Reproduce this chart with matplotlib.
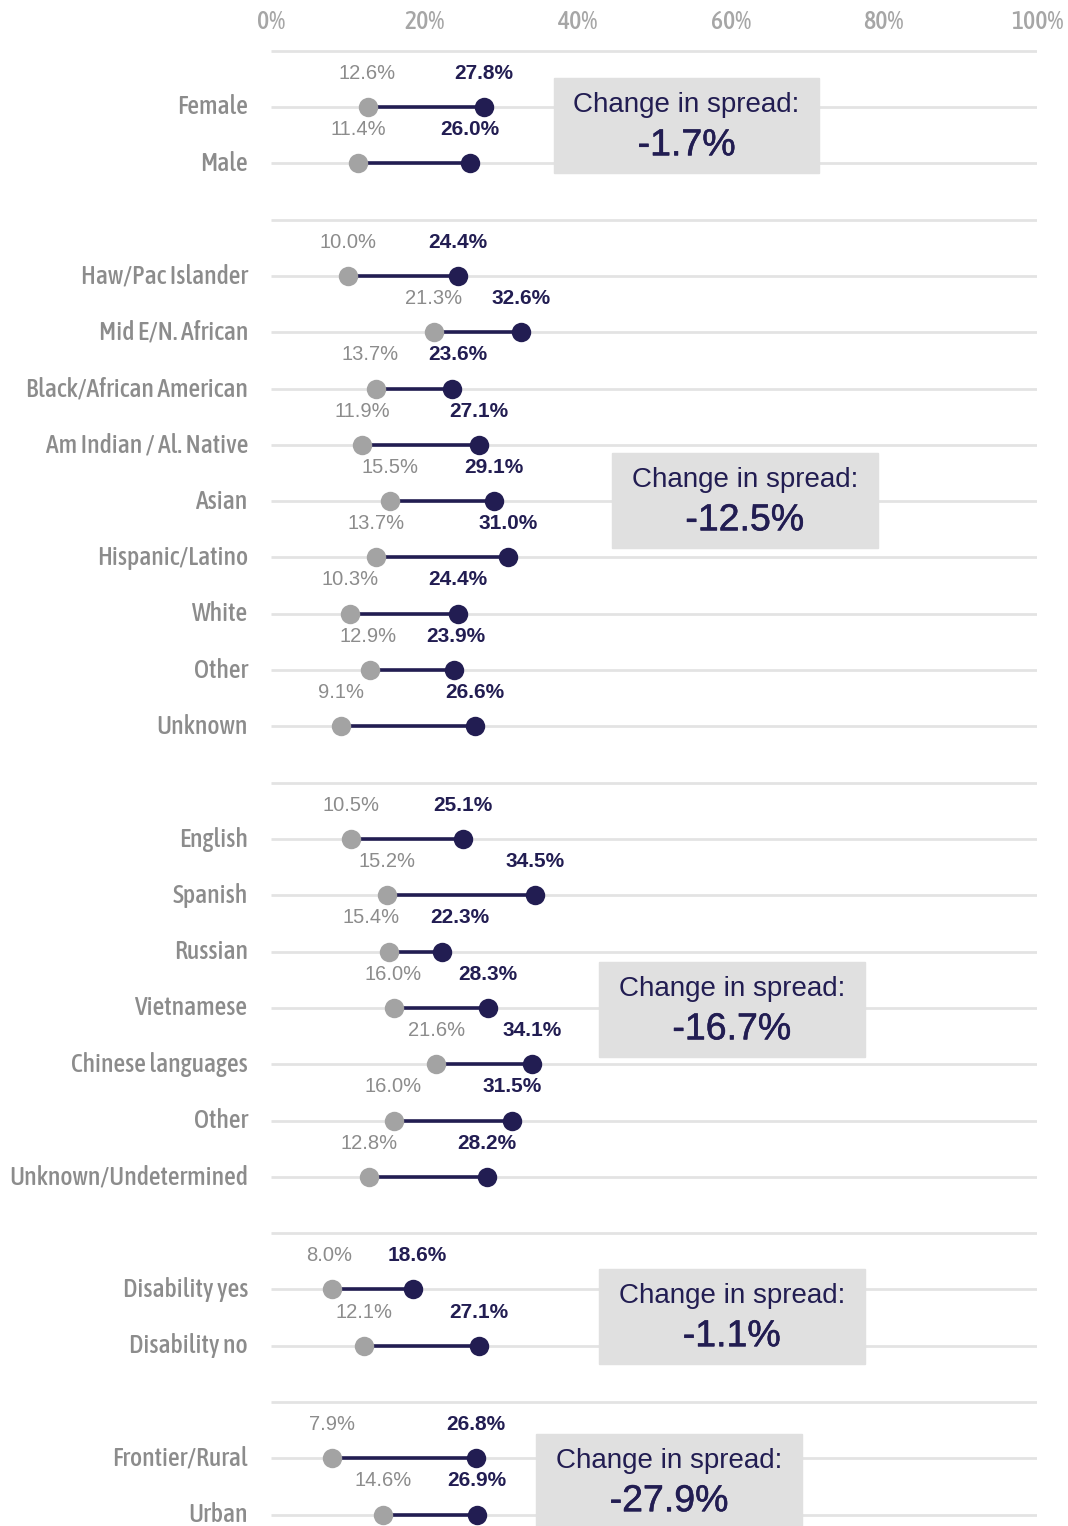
import matplotlib.pyplot as plt
from matplotlib.patches import Rectangle
import matplotlib.patheffects as pe
import matplotlib.font_manager as fm

# data
categories = ['', 'Female', 'Male',
              '', 'Haw/Pac Islander', 'Mid E/N. African', 'Black/African American',
              'Am Indian / Al. Native', 'Asian', 'Hispanic/Latino', 'White', 'Other', 'Unknown',
              '', 'English', 'Spanish', 'Russian', 'Vietnamese', 'Chinese languages', 'Other',
              'Unknown/Undetermined',
              '', 'Disability yes', 'Disability no',
              '', 'Frontier/Rural', 'Urban']
low = [None, 12.6, 11.4,
       None, 10.0, 21.3, 13.7, 11.9, 15.5, 13.7, 10.3, 12.9, 9.1,
       None, 10.5, 15.2, 15.4, 16.0, 21.6, 16.0, 12.8,
       None, 8.0, 12.1,
       None, 7.9, 14.6]
high = [None, 27.8, 26.0,
        None, 24.4, 32.6, 23.6, 27.1, 29.1, 31.0, 24.4, 23.9, 26.6,
        None, 25.1, 34.5, 22.3, 28.3, 34.1, 31.5, 28.2,
        None, 18.6, 27.1,
        None, 26.8, 26.9]
spread_text = ['-1.7%', '-12.5%', '-16.7%', '-1.1%', '-27.9%']
# box layout (x left in %, y top in row units)
box_pos = [(36.9, 0.48), (44.5, 7.14), (42.8, 16.18), (42.8, 21.63), (34.6, 24.56)]


def wnum(w):
    if isinstance(w, int):
        return w
    return fm.weight_dict.get(w, 400)


# look for a condensed face for the category labels, regular weight if possible
cond = [f for f in fm.fontManager.ttflist
        if (f.stretch in ('condensed', 'semi-condensed', 'extra-condensed')
            or 'Condensed' in f.fname or 'Narrow' in f.fname) and f.style == 'normal']
if cond:
    cond.sort(key=lambda f: abs(wnum(f.weight) - 500))
    nfont = dict(family=cond[0].name, stretch=cond[0].stretch, weight=cond[0].weight)
    csize, tsize = 18.5, 18.5
else:
    nfont = dict(family='Roboto')
    csize, tsize = 15, 15
base = 'Liberation Sans'

GRAY = '#a3a3a3'
NAVY = '#221d52'
LBL = '#8c8c8c'

fig = plt.figure(figsize=(10.68, 15.26), dpi=100)
ax = fig.add_axes([271 / 1068, 0, (1037 - 271) / 1068, 1 - 49 / 1526])
ax.set_xlim(0, 100)
ax.set_ylim(26.2, -0.03)

for i in range(len(categories)):
    ax.plot([0, 100], [i, i], color='#e3e3e3', lw=2, zorder=0, solid_capstyle='butt')

for i, (c, a, b) in enumerate(zip(categories, low, high)):
    if a is None:
        continue
    ax.plot([a, b], [i, i], color=NAVY, lw=2.6, zorder=2)
    ax.plot(a, i, 'o', ms=14, color=GRAY, mec='none', zorder=3)
    ax.plot(b, i, 'o', ms=14, color=NAVY, mec='none', zorder=3)
    xa, xb = a, b
    gap = b - a
    if gap < 11.5:
        d = (11.5 - gap) / 2
        xa, xb = a - d, b + d
    ax.text(xa, i - 0.6, f'{a:.1f}%', ha='center', va='center', fontsize=14.5,
            color=LBL, family=base)
    ax.text(xb, i - 0.6, f'{b:.1f}%', ha='center', va='center', fontsize=15,
            color=NAVY, family=base, fontweight='bold')
    ax.text(-3, i, c, ha='right', va='center', fontsize=csize, color=LBL, **nfont)

for (bx, by), s in zip(box_pos, spread_text):
    ax.add_patch(Rectangle((bx, by), 34.7, 1.69, color='#e0e0e0', zorder=4, clip_on=False))
    ax.text(bx + 17.35, by + 0.48, 'Change in spread:', ha='center', va='center',
            fontsize=20, color=NAVY, family=base, zorder=5)
    ax.text(bx + 17.35, by + 1.2, s, ha='center', va='center',
            fontsize=27, color=NAVY, family=base, zorder=5,
            path_effects=[pe.withStroke(linewidth=0.4, foreground=NAVY)])

ax.xaxis.tick_top()
ax.set_xticks([0, 20, 40, 60, 80, 100])
ax.set_xticklabels(['0%', '20%', '40%', '60%', '80%', '100%'], **nfont)
ax.tick_params(axis='x', length=0, pad=11, labelsize=tsize, labelcolor='#a6a6a6')
ax.set_yticks([])
for s in ax.spines.values():
    s.set_visible(False)

fig.savefig('out.png', dpi=100)
